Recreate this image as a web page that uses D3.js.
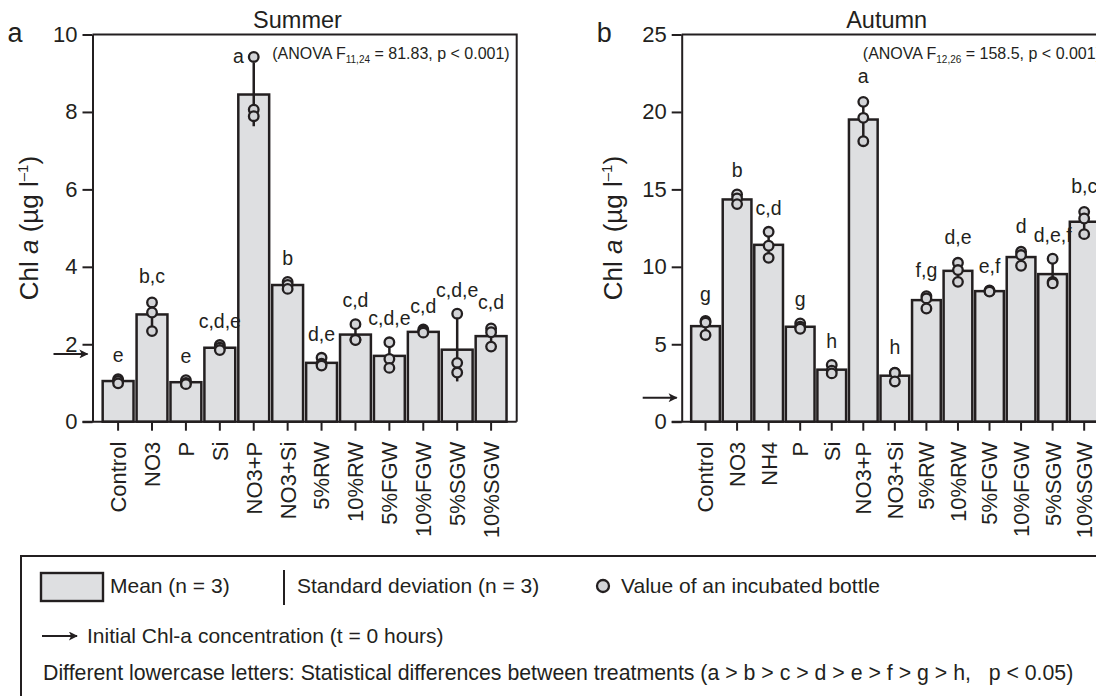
<!DOCTYPE html>
<html>
<head>
<meta charset="utf-8">
<script src="https://cdn.jsdelivr.net/npm/d3@7"></script>
<style>
  body { margin: 0; background: #fff; }
  svg { display: block; font-family: "Liberation Sans", Arial, Helvetica, sans-serif; }
</style>
</head>
<body>
<svg id="chart" width="1096" height="696"></svg>
<script>
// ---- Data : Summer (panel a) ----
var summerCats    = ["Control", "NO3", "P", "Si", "NO3+P", "NO3+Si", "5%RW", "10%RW", "5%FGW", "10%FGW", "5%SGW", "10%SGW"];
var summerMean    = [1.05, 2.77, 1.02, 1.91, 8.45, 3.53, 1.52, 2.25, 1.70, 2.32, 1.86, 2.21];
var summerSd      = [0.06, 0.37, 0.05, 0.06, 0.82, 0.09, 0.10, 0.23, 0.33, 0.04, 0.82, 0.25];
var summerBottles = [[1.10, 1.05, 0.99], [3.08, 2.82, 2.34], [1.07, 1.00, 0.97], [1.98, 1.91, 1.85],
                     [9.42, 8.06, 7.89], [3.61, 3.53, 3.43], [1.65, 1.50, 1.45], [2.52, 2.12, 2.11],
                     [2.05, 1.62, 1.39], [2.38, 2.34, 2.30], [2.79, 1.52, 1.27], [2.41, 2.31, 1.94]];
var summerLetters = ["e", "b,c", "e", "c,d,e", "a", "b", "d,e", "c,d", "c,d,e", "c,d", "c,d,e", "c,d"];
var summerInitial = 1.75;
var summerTicks   = [0, 2, 4, 6, 8, 10];

// ---- Data : Autumn (panel b) ----
var autumnCats    = ["Control", "NO3", "NH4", "P", "Si", "NO3+P", "NO3+Si", "5%RW", "10%RW", "5%FGW", "10%FGW", "5%SGW", "10%SGW"];
var autumnMean    = [6.17, 14.35, 11.42, 6.13, 3.36, 19.51, 2.97, 7.85, 9.74, 8.43, 10.63, 9.53, 12.91];
var autumnSd      = [0.50, 0.31, 0.84, 0.18, 0.27, 1.28, 0.33, 0.42, 0.62, 0.06, 0.47, 0.89, 0.73];
var autumnBottles = [[6.50, 6.40, 5.60], [14.67, 14.41, 14.05], [12.26, 11.36, 10.58], [6.35, 6.13, 6.00],
                     [3.66, 3.30, 3.12], [20.65, 19.62, 18.11], [3.17, 3.15, 2.60], [8.11, 7.96, 7.31],
                     [10.26, 9.79, 9.03], [8.47, 8.43, 8.40], [10.97, 10.76, 10.07], [10.52, 9.03, 8.93],
                     [13.55, 13.12, 12.11]];
var autumnLetters = ["g", "b", "c,d", "g", "h", "a", "h", "f,g", "d,e", "e,f", "d", "d,e,f", "b,c"];
var autumnInitial = 1.55;
var autumnTicks   = [0, 5, 10, 15, 20, 25];

var ink = "#231f20",
    barFill = "#dedfe1",
    dotFill = "#d3d4d7";

var svg = d3.select("#chart");

svg.append("defs").append("marker")
    .attr("id", "arrowHead")
    .attr("viewBox", "0 0 10 10")
    .attr("refX", 9).attr("refY", 5)
    .attr("markerWidth", 10).attr("markerHeight", 9)
    .attr("markerUnits", "userSpaceOnUse")
    .attr("orient", "auto")
  .append("path")
    .attr("d", "M0,0 L10,5 L0,10 L2.5,5 Z")
    .attr("fill", ink);

// Draw one panel
function drawPanel(p) {
  var g = svg.append("g");

  var x = d3.scaleBand()
      .domain(p.cats)
      .range([p.x0, p.x1])
      .paddingInner(0.09)
      .paddingOuter(0.3);

  var y = d3.scaleLinear()
      .domain([0, p.ymax])
      .range([p.bottom, p.top]);

  // bars
  g.selectAll(".bar")
    .data(p.mean)
    .enter().append("rect")
      .attr("class", "bar")
      .attr("x", function(d, i) { return x(p.cats[i]); })
      .attr("y", function(d) { return y(d); })
      .attr("width", x.bandwidth())
      .attr("height", function(d) { return y(0) - y(d); })
      .attr("fill", barFill)
      .attr("stroke", ink)
      .attr("stroke-width", 2.5);

  // frame (top + right)
  g.append("path")
      .attr("d", "M" + p.x0 + "," + p.top + "H" + p.x1 + "V" + p.bottom)
      .attr("fill", "none")
      .attr("stroke", ink)
      .attr("stroke-width", 2);

  // axes
  var yAxis = g.append("g")
      .attr("transform", "translate(" + p.x0 + ",0)")
      .call(d3.axisLeft(y).tickValues(p.ticks).tickSize(10).tickSizeOuter(0).tickPadding(5));

  var xAxis = g.append("g")
      .attr("transform", "translate(0," + p.bottom + ")")
      .call(d3.axisBottom(x).tickSize(9).tickSizeOuter(0));

  xAxis.select(".domain").attr("d", "M" + (p.x0 - 10) + ",0H" + p.x1);

  [yAxis, xAxis].forEach(function(a) {
    a.select(".domain").attr("stroke", ink).attr("stroke-width", 2);
    a.selectAll(".tick line").attr("stroke", ink).attr("stroke-width", 2);
    a.selectAll(".tick text").attr("fill", ink).style("font-size", "22px");
  });

  xAxis.selectAll(".tick text")
      .attr("transform", "rotate(-90)")
      .attr("x", -20)
      .attr("y", 0)
      .attr("dy", "0.36em")
      .attr("text-anchor", "end");

  // error bars (standard deviation)
  g.selectAll(".sd")
    .data(p.mean)
    .enter().append("line")
      .attr("class", "sd")
      .attr("x1", function(d, i) { return x(p.cats[i]) + x.bandwidth() / 2; })
      .attr("x2", function(d, i) { return x(p.cats[i]) + x.bandwidth() / 2; })
      .attr("y1", function(d, i) { return y(d - p.sd[i]); })
      .attr("y2", function(d, i) { return y(d + p.sd[i]); })
      .attr("stroke", ink)
      .attr("stroke-width", 2.5);

  // bottle values
  var dots = [];
  p.bottles.forEach(function(vals, i) {
    vals.forEach(function(v) { dots.push({cat: p.cats[i], v: v}); });
  });
  g.selectAll(".dot")
    .data(dots)
    .enter().append("circle")
      .attr("class", "dot")
      .attr("cx", function(d) { return x(d.cat) + x.bandwidth() / 2; })
      .attr("cy", function(d) { return y(d.v); })
      .attr("r", 4.8)
      .attr("fill", dotFill)
      .attr("stroke", ink)
      .attr("stroke-width", 2.3);

  // significance letters
  g.selectAll(".letter")
    .data(p.letters)
    .enter().append("text")
      .attr("class", "letter")
      .each(function(d, i) {
        var cx = x(p.cats[i]) + x.bandwidth() / 2,
            hi = Math.max(d3.max(p.bottles[i]), p.mean[i] + p.sd[i]),
            ly = y(hi) - 17,
            t = d3.select(this);
        if (ly - 13 < p.top) {
          t.attr("x", cx - 10).attr("y", y(hi) + 6).attr("text-anchor", "end");
        } else {
          t.attr("x", cx).attr("y", ly).attr("text-anchor", "middle");
        }
      })
      .attr("fill", ink)
      .style("font-size", "19.5px")
      .text(function(d) { return d; });

  // initial concentration arrow
  g.append("line")
      .attr("x1", p.x0 - 39)
      .attr("x2", p.x0 - 5)
      .attr("y1", y(p.initial))
      .attr("y2", y(p.initial))
      .attr("stroke", ink)
      .attr("stroke-width", 2)
      .attr("marker-end", "url(#arrowHead)");

  // ANOVA note
  var an = g.append("text")
      .attr("x", p.x1 - 7)
      .attr("y", p.top + 24)
      .attr("text-anchor", "end")
      .attr("fill", ink)
      .style("font-size", "16px");
  an.append("tspan").text("(ANOVA F");
  an.append("tspan").attr("dy", 4).style("font-size", "10px").text(p.df);
  an.append("tspan").attr("dy", -4).text(" = " + p.fval + ", p < 0.001)");

  // title, panel letter, y label
  g.append("text")
      .attr("x", p.x0 + 205)
      .attr("y", 28)
      .attr("text-anchor", "middle")
      .attr("fill", ink)
      .style("font-size", "23.5px")
      .text(p.title);

  g.append("text")
      .attr("x", p.x0 - 85)
      .attr("y", 42)
      .attr("fill", ink)
      .style("font-size", "27px")
      .text(p.tag);

  var yl = g.append("text")
      .attr("transform", "translate(" + (p.x0 + p.ylabDx) + "," + ((p.top + p.bottom) / 2) + ") rotate(-90)")
      .attr("text-anchor", "middle")
      .attr("fill", ink)
      .style("font-size", "26px");
  yl.append("tspan").text("Chl ");
  yl.append("tspan").style("font-style", "italic").text("a");
  yl.append("tspan").text(" (µg l");
  yl.append("tspan").attr("dy", -10).style("font-size", "15px").text("–1");
  yl.append("tspan").attr("dy", 10).text(")");
}

drawPanel({
  cats: summerCats, mean: summerMean, sd: summerSd, bottles: summerBottles,
  letters: summerLetters, initial: summerInitial, ticks: summerTicks, ymax: 10,
  x0: 92.5, x1: 516.7, top: 34.5, bottom: 421.7, ylabDx: -55,
  title: "Summer", tag: "a", df: "11,24", fval: "81.83"
});

drawPanel({
  cats: autumnCats, mean: autumnMean, sd: autumnSd, bottles: autumnBottles,
  letters: autumnLetters, initial: autumnInitial, ticks: autumnTicks, ymax: 25,
  x0: 681.7, x1: 1108, top: 34.5, bottom: 421.7, ylabDx: -60,
  title: "Autumn", tag: "b", df: "12,26", fval: "158.5"
});

// ---- Legend ----
var lg = svg.append("g").attr("fill", ink).style("font-size", "21px");

lg.append("rect")
    .attr("x", 21).attr("y", 556)
    .attr("width", 1100).attr("height", 200)
    .attr("fill", "none")
    .attr("stroke", ink)
    .attr("stroke-width", 2);

lg.append("rect")
    .attr("x", 41).attr("y", 573)
    .attr("width", 62).attr("height", 28)
    .attr("fill", barFill)
    .attr("stroke", ink)
    .attr("stroke-width", 2.4);
lg.append("text").attr("x", 110).attr("y", 593).text("Mean (n = 3)");

lg.append("line")
    .attr("x1", 284).attr("x2", 284)
    .attr("y1", 570).attr("y2", 605)
    .attr("stroke", ink)
    .attr("stroke-width", 2);
lg.append("text").attr("x", 297).attr("y", 593).text("Standard deviation (n = 3)");

lg.append("circle")
    .attr("cx", 603).attr("cy", 586).attr("r", 6)
    .attr("fill", dotFill)
    .attr("stroke", ink)
    .attr("stroke-width", 2.3);
lg.append("text").attr("x", 621).attr("y", 593).text("Value of an incubated bottle");

lg.append("line")
    .attr("x1", 42).attr("x2", 77)
    .attr("y1", 636).attr("y2", 636)
    .attr("stroke", ink)
    .attr("stroke-width", 2)
    .attr("marker-end", "url(#arrowHead)");
lg.append("text").attr("x", 87).attr("y", 643).text("Initial Chl-a concentration (t = 0 hours)");

lg.append("text").attr("x", 43).attr("y", 680)
    .attr("xml:space", "preserve")
    .style("white-space", "pre")
    .style("font-size", "21.3px")
    .text("Different lowercase letters: Statistical differences between treatments (a > b > c > d > e > f > g > h,   p < 0.05)");
</script>
</body>
</html>
